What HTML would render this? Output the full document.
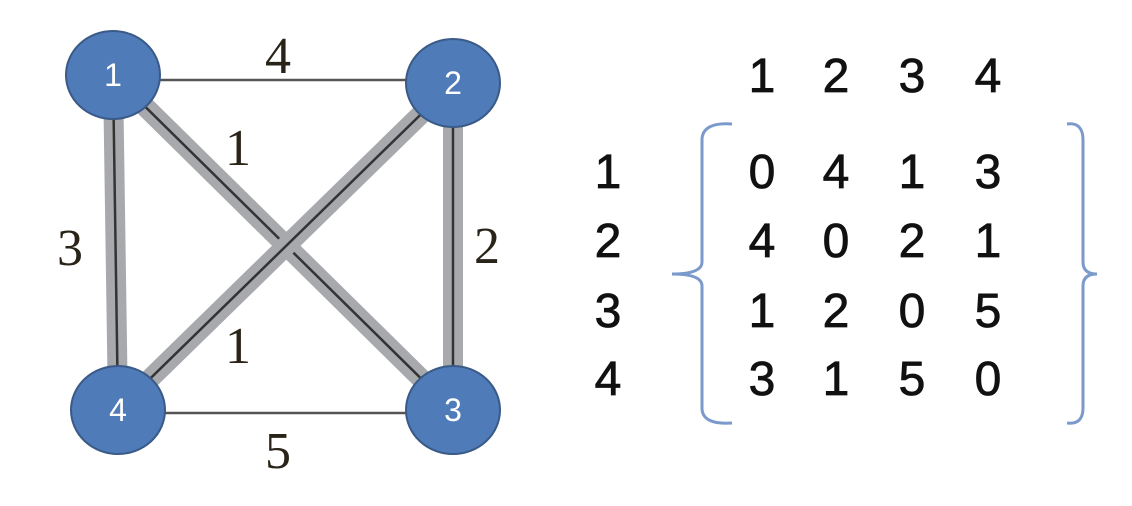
<!DOCTYPE html>
<html><head><meta charset="utf-8"><style>
html,body{margin:0;padding:0;background:#fff;width:1132px;height:506px;overflow:hidden}
svg{display:block}
.lbl{font-family:"Liberation Serif",serif;font-size:52px;fill:#2a2418;text-anchor:middle}
.nd{font-family:"Liberation Sans",sans-serif;font-size:32px;fill:#fff;text-anchor:middle}
.mx{font-family:"Liberation Sans",sans-serif;font-size:48px;fill:#111;stroke:#111;stroke-width:0.8;text-anchor:middle}
</style></head><body>
<svg width="1132" height="506" viewBox="0 0 1132 506">
<g id="edges"></g>
<g id="nodes"></g>
<g id="labels"></g>
<g id="matrix">
<path d="M732,124 Q702,122 702,140 L702,262 Q702,274 672,274 Q702,274 702,286 L702,408 Q702,425 732,423" fill="none" stroke="#7b9acb" stroke-width="3"/>
<path d="M1067,124 Q1083,122 1083,140 L1083,262 Q1083,274 1097,274 Q1083,274 1083,286 L1083,408 Q1083,425 1067,423" fill="none" stroke="#7b9acb" stroke-width="3"/>
</g>
</svg>
<script>
const nodeIds=[1,2,3,4];
const nodeX=[113,453,453,118];
const nodeY=[75,83,410,410];
const weights=[[0,4,1,3],[4,0,2,1],[1,2,0,5],[3,1,5,0]];
const highlighted=[[0,3],[0,2],[1,3],[1,2]];
const plain=[[0,1],[3,2]];
const plainEdgeY=[80,413];
const edgeLabelPos=[[0,1,278,73],[0,2,238,165],[0,3,70,265],[1,2,487,263],[1,3,238,363],[3,2,278,468]];
const colX=[762,836,912,988];
const rowY=[188,257,327,395];
const NS='http://www.w3.org/2000/svg';
function mk(t,a,p){const e=document.createElementNS(NS,t);for(const k in a)e.setAttribute(k,a[k]);p.appendChild(e);return e;}
const E=document.getElementById('edges'),N=document.getElementById('nodes'),L=document.getElementById('labels'),M=document.getElementById('matrix');
highlighted.forEach(([a,b])=>{
 const g=mk('line',{x1:nodeX[a],y1:nodeY[a],x2:nodeX[b],y2:nodeY[b],stroke:'#a8a9ad','stroke-width':20},E);
 
 
 const l=mk('line',{x1:nodeX[a],y1:nodeY[a],x2:nodeX[b],y2:nodeY[b],stroke:'#333','stroke-width':2.5},E);
 
 
});
plain.forEach(([a,b],k)=>{
 const l=mk('line',{x1:nodeX[a],y1:plainEdgeY[k],x2:nodeX[b],y2:plainEdgeY[k],stroke:'#555','stroke-width':2.5},E);
 
 
});
nodeIds.forEach((id,i)=>{
 const c=mk('ellipse',{cx:nodeX[i],cy:nodeY[i],rx:47,ry:44,fill:'#4f7bb8',stroke:'#3a5a88','stroke-width':2},N);
 
 
 const t=mk('text',{x:nodeX[i],y:nodeY[i]+11,class:'nd'},N);t.textContent=id;
 
 
});
edgeLabelPos.forEach(([a,b,x,y])=>{
 const t=mk('text',{x:x,y:y,class:'lbl'},L);t.textContent=weights[a][b];
 
 
});
nodeIds.forEach((id,j)=>{
 const t=mk('text',{x:colX[j],y:92,class:'mx'},M);t.textContent=id;
 
 
 const r=mk('text',{x:608,y:rowY[j],class:'mx'},M);r.textContent=id;
 
 
});
weights.forEach((row,i)=>row.forEach((v,j)=>{
 const t=mk('text',{x:colX[j],y:rowY[i],class:'mx'},M);t.textContent=v;
 
 
}));
</script>
</body></html>
